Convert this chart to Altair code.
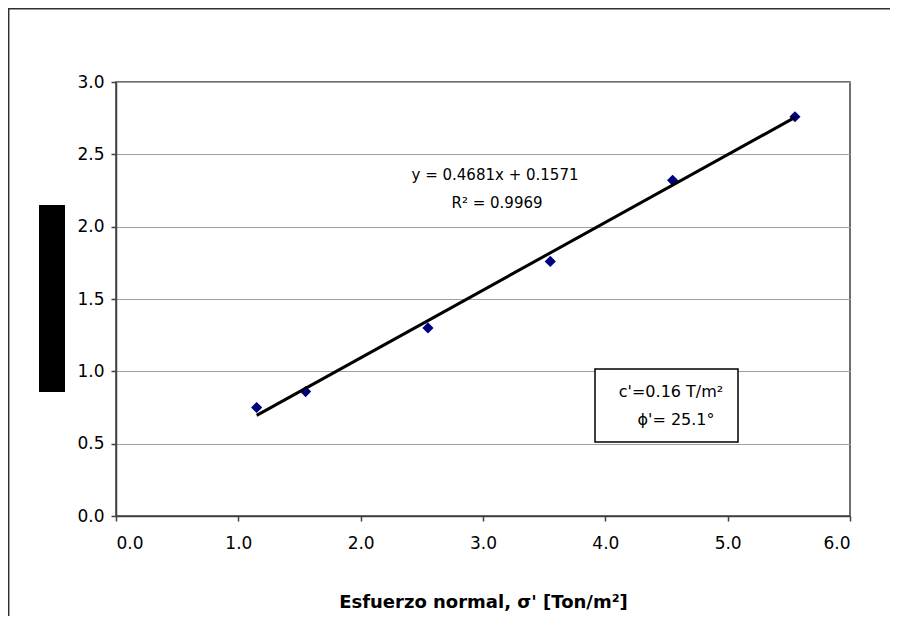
import altair as alt
import pandas as pd

# Data
sigma_n = [1.15, 1.55, 2.55, 3.55, 4.55, 5.55]
tau = [0.75, 0.86, 1.30, 1.76, 2.32, 2.76]

# Trendline given on the chart: y = 0.4681x + 0.1571
slope = 0.4681
intercept = 0.1571
trend_x = [min(sigma_n), max(sigma_n)]
trend_y = [slope * v + intercept for v in trend_x]

eq_text = "y = 0.4681x + 0.1571"
r2_text = "R\u00b2 = 0.9969"
box_line1 = "c'=0.16 T/m\u00b2"
box_line2 = "\u03d5'= 25.1\u00b0"
x_title = "Esfuerzo normal, \u03c3' [Ton/m\u00b2]"

x_ticks = [0, 1, 2, 3, 4, 5, 6]
y_ticks = [0.0, 0.5, 1.0, 1.5, 2.0, 2.5, 3.0]

W, H = 734, 434
PAD = {"left": 108, "top": 74, "right": 40, "bottom": 100}

pts = pd.DataFrame({"x": sigma_n, "y": tau})
trend = pd.DataFrame({"x": trend_x, "y": trend_y})

FONT = "DejaVu Sans"
AXC = "#404040"

xscale = alt.Scale(domain=[0, 6], nice=False, zero=True)
yscale = alt.Scale(domain=[0, 3], nice=False, zero=True)

xaxis = alt.Axis(values=x_ticks, format=".1f", title=x_title, grid=False,
                 labelFont=FONT, labelFontSize=17, labelColor="black",
                 labelPadding=14, tickSize=5, tickColor=AXC, tickWidth=1.5,
                 domainColor=AXC, domainWidth=1.5,
                 titleFont=FONT, titleFontSize=18, titleFontWeight="bold",
                 titleColor="black", titlePadding=42)
yaxis = alt.Axis(values=y_ticks, format=".1f", title=None, grid=True,
                 gridColor="#a0a0a0", gridWidth=1,
                 labelFont=FONT, labelFontSize=17, labelColor="black",
                 labelPadding=7, tickSize=5, tickColor=AXC, tickWidth=1.5,
                 domainColor=AXC, domainWidth=1.5)

points = alt.Chart(pts).mark_point(shape="diamond", filled=True, size=125,
                                   color="#000080", opacity=1).encode(
    x=alt.X("x:Q", scale=xscale, axis=xaxis),
    y=alt.Y("y:Q", scale=yscale, axis=yaxis),
)

line = alt.Chart(trend).mark_line(color="black", strokeWidth=3).encode(
    x=alt.X("x:Q", scale=xscale),
    y=alt.Y("y:Q", scale=yscale),
)

one = pd.DataFrame({"a": [0]})

def txt(s, x, y, size=15):
    return alt.Chart(one).mark_text(text=s, font=FONT, fontSize=size,
                                    color="black", align="center",
                                    baseline="middle").encode(
        x=alt.value(x), y=alt.value(y))

eq = txt(eq_text, 379, 93, 15)
r2 = txt(r2_text, 381, 121, 15)

box = alt.Chart(one).mark_rect(fill="white", stroke="black", strokeWidth=1.5).encode(
    x=alt.value(479), x2=alt.value(622), y=alt.value(287), y2=alt.value(360))
b1 = txt(box_line1, 555, 310, 16)
b2 = txt(box_line2, 560, 338, 16)

ytitle_block = alt.Chart(one).mark_rect(fill="black").encode(
    x=alt.value(-77), x2=alt.value(-51), y=alt.value(123), y2=alt.value(310))

frame_left = alt.Chart(one).mark_rule(color="#303030", strokeWidth=1.5).encode(
    x=alt.value(-107.3), y=alt.value(-73.3), y2=alt.value(H + PAD["bottom"]))
frame_top = alt.Chart(one).mark_rule(color="#303030", strokeWidth=1.5).encode(
    y=alt.value(-73.3), x=alt.value(-108), x2=alt.value(W + PAD["right"]))

chart = alt.layer(frame_left, frame_top, ytitle_block, points, line, eq, r2,
                  box, b1, b2).properties(
    width=W, height=H,
    autosize=alt.AutoSizeParams(type="none"),
    padding=PAD,
    background="white",
).configure_view(stroke=AXC, strokeWidth=1.5)

chart.save("out.html", embed_options={"renderer": "svg", "actions": False})
